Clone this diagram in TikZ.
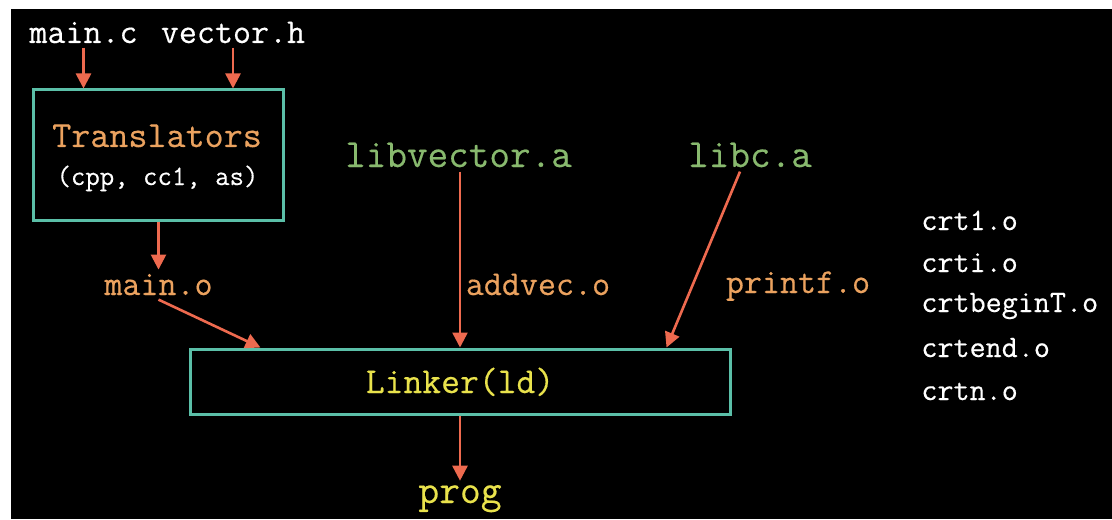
\documentclass[tikz,border=0pt]{standalone}
\usepackage{fontspec}
\setmonofont[FakeBold=0.4]{Latin Modern Mono}
\usetikzlibrary{arrows.meta,calc}
\definecolor{boxline}{HTML}{5BBFA8}
\definecolor{arrowred}{HTML}{EE6A4F}
\definecolor{objorange}{HTML}{EBA25F}
\definecolor{libgreen}{HTML}{88B96E}
\definecolor{tooly}{HTML}{E9E24C}
\newcommand{\tts}[1]{\fontsize{#1}{#1}\selectfont\ttfamily}
\begin{document}
\begin{tikzpicture}[x=0.5pt,y=-0.5pt,
		lbl/.style={anchor=base,inner sep=2pt},
		srcfile/.style={lbl,text=white,font=\tts{17.5pt}},
		objfile/.style={lbl,text=objorange,font=\tts{17.5pt}},
		libfile/.style={lbl,text=libgreen,font=\tts{20pt}},
		crtfile/.style={anchor=base west,inner sep=0pt,text=white,font=\tts{15.6pt}},
		stage/.style={draw=boxline,line width=1.5pt},
		flow/.style={-{Triangle[length=7.5pt,width=7.5pt]},draw=arrowred,line width=1.3pt}]
	\fill[white] (0,0) rectangle (1112,519);
	\fill[black] (11,9) rectangle (1112,519);
	\node[srcfile] (mainc) at (83.5,43) {main.c};
	\node[srcfile] (vech) at (233,43) {vector.h};
	\node[stage,minimum width=125pt,minimum height=65pt] (trans) at (158,155) {};
	\node[lbl,text=objorange,font=\tts{18.5pt}] (transname) at (157,147) {Translators};
	\node[lbl,text=white,font=\tts{14pt}] (transtools) at (157.5,185) {(cpp, cc1, as)};
	\node[objfile] (maino) at (158.5,295) {main.o};
	\node[libfile] (libvec) at (458.5,167) {libvector.a};
	\node[objfile] (addvec) at (538,295) {addvec.o};
	\node[libfile] (libc) at (750,167) {libc.a};
	\node[objfile] (printf) at (798,293) {printf.o};
	\node[stage,minimum width=270pt,minimum height=32.5pt] (linker) at (460,381.5) {};
	\node[lbl,text=tooly,font=\tts{18.3pt}] (linkname) at (460,393) {Linker(ld)};
	\node[lbl,text=tooly,font=\tts{20.2pt}] (prog) at (460,503) {prog};
	\node[crtfile] (crt1) at (921,230) {crt1.o};
	\node[crtfile] (crti) at (921,272) {crti.o};
	\node[crtfile] (crtbegin) at (921,312) {crtbeginT.o};
	\node[crtfile] (crtend) at (921,357) {crtend.o};
	\node[crtfile] (crtn) at (921,400) {crtn.o};
	\draw[flow] (mainc.south) -- (mainc.south |- trans.north);
	\draw[flow] (vech.south) -- (vech.south |- trans.north);
	\draw[flow] (trans.south -| maino) -- (maino.north);
	\draw[flow] (maino.south) -- ($(linker.north west)+(72,0)$);
	\draw[flow] (libvec.south -| linker.north) -- (linker.north);
	\draw[flow] ($(libc.south)+(-10,0)$) -- ($(linker.north east)+(-65,0)$);
	\draw[flow] (linker.south) -- (prog.north);
\end{tikzpicture}
\end{document}
